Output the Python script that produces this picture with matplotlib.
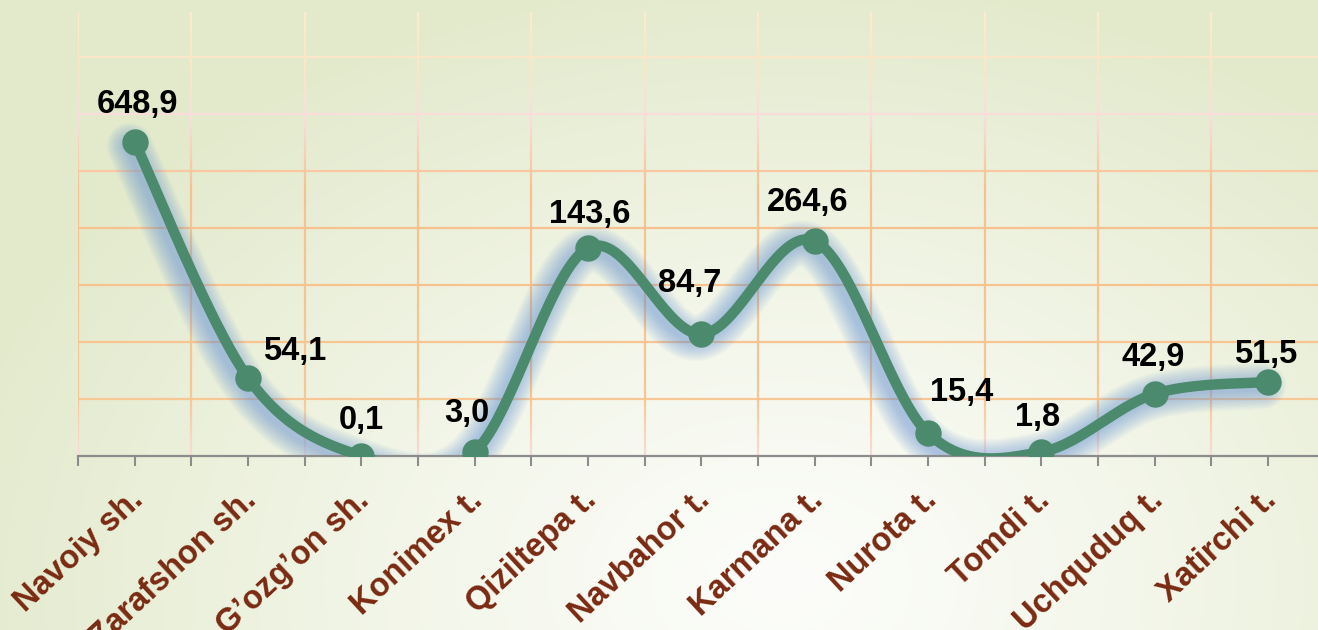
import numpy as np
import matplotlib.pyplot as plt
import matplotlib.transforms as mtransforms
from matplotlib.collections import LineCollection
from matplotlib.colors import LinearSegmentedColormap, to_rgb

plt.rcParams["font.family"] = ["Liberation Sans", "DejaVu Sans"]
plt.rcParams["font.weight"] = "bold"

# data (heights in grid units; labels as printed)
districts = ["Navoiy sh.", "Zarafshon sh.", "G\u2019ozg\u2019on sh.", "Konimex t.",
             "Qiziltepa t.", "Navbahor t.", "Karmana t.", "Nurota t.",
             "Tomdi t.", "Uchquduq t.", "Xatirchi t."]
heights = [5.51, 1.37, 0.00, 0.07, 3.65, 2.14, 3.77, 0.40, 0.07, 1.09, 1.30]
value_labels = ["648,9", "54,1", "0,1", "3,0", "143,6", "84,7",
                "264,6", "15,4", "1,8", "42,9", "51,5"]

# label offsets in pixels (dx, dy)
label_offsets = [(3, 37), (47, 26), (0, 35), (-8, 39), (2, 33), (-12, 51),
                 (-7, 39), (34, 41), (-4, 35), (-1, 36), (-2, 27)]

LINE = "#4B8A6D"
GLOW = "#6593D6"
CAT = "#7A2A12"


def smooth(xs, ys, n=40):
    # Excel-like smoothed line (cubic bezier, catmull-rom control points)
    pts = np.column_stack([xs, ys]).astype(float)
    out = []
    for i in range(len(pts) - 1):
        p0 = pts[i - 1] if i > 0 else pts[i]
        p1, p2 = pts[i], pts[i + 1]
        p3 = pts[i + 2] if i + 2 < len(pts) else pts[i + 1]
        c1 = p1 + (p2 - p0) / 6
        c2 = p2 - (p3 - p1) / 6
        t = np.linspace(0, 1, n)[:, None]
        seg = ((1 - t) ** 3) * p1 + 3 * ((1 - t) ** 2) * t * c1 \
            + 3 * (1 - t) * t ** 2 * c2 + t ** 3 * p2
        out.append(seg if i == 0 else seg[1:])
    seg = np.vstack(out)
    return seg[:, 0], seg[:, 1]


def main():
    W, H = 1318, 630
    fig = plt.figure(figsize=(W / 100, H / 100), dpi=100)

    # background gradient
    bg = fig.add_axes([0, 0, 1, 1], zorder=-10)
    yy, xx = np.mgrid[0:H, 0:W]
    d = np.sqrt((xx - 780) ** 2 + ((yy - 580) * 1.4) ** 2) / 850
    d = np.clip(d, 0, 1) ** 1.2
    c_in = np.array(to_rgb("#FCFDFA"))
    c_out = np.array(to_rgb("#E3EACC"))
    img = c_in[None, None, :] * (1 - d[..., None]) + c_out[None, None, :] * d[..., None]
    bg.imshow(img, aspect="auto", extent=[0, 1, 0, 1])
    bg.axis("off")

    left, top, bottom_px = 78, 12, 456
    step = 113.33
    ax = fig.add_axes([left / W, (H - bottom_px) / H,
                       len(districts) * step / W, (bottom_px - top) / H])
    ax.set_facecolor("none")
    x = np.arange(len(districts))
    ymax = (bottom_px - top) / 57.0
    ax.set_xlim(-0.5, len(districts) - 0.5)
    ax.set_ylim(0, ymax)

    # gradient grid
    grid_cmap = LinearSegmentedColormap.from_list(
        "g", [(0, "#F9DCDA"), (0.13, "#F8C693"), (0.6, "#F8C08C"),
              (0.76, "#FADCDE"), (0.88, "#FBE6C6"), (1, "#FCEBCC")])
    for gy in np.arange(1, 8):
        ax.axhline(gy, color=grid_cmap(gy / ymax), lw=1.6, zorder=1)
    ys = np.linspace(0, ymax, 120)
    segs, cols = [], []
    for gx in np.arange(-0.5, len(districts), 1.0):
        for a, b in zip(ys[:-1], ys[1:]):
            segs.append([(gx, a), (gx, b)])
            cols.append(grid_cmap((a + b) / 2 / ymax))
    ax.add_collection(LineCollection(segs, colors=cols, lw=1.6, zorder=1))

    # line with soft glow shifted down-left
    sx, sy = smooth(x, heights)
    shifted = mtransforms.offset_copy(ax.transData, fig=fig, x=-5, y=-4, units="dots")
    for lw in np.arange(46, 8, -3):
        ax.plot(sx, sy, color=GLOW, lw=lw * 0.72, alpha=0.05,
                solid_capstyle="round", transform=shifted, zorder=2)
    ax.plot(sx, sy, color=LINE, lw=7.5, solid_capstyle="round", zorder=3)
    ax.plot(x, heights, "o", color=LINE, ms=19, mew=0, zorder=4)

    for xi, hi, lab, (dx, dy) in zip(x, heights, value_labels, label_offsets):
        ax.annotate(lab, (xi, hi), xytext=(dx * 0.72, dy * 0.72),
                    textcoords="offset points", ha="center", va="center",
                    fontsize=23.5, fontweight="bold", color="black", zorder=5,
                    annotation_clip=False)

    # axes styling
    for s in ["left", "right", "top"]:
        ax.spines[s].set_visible(False)
    ax.spines["bottom"].set_color("#8C8C8C")
    ax.spines["bottom"].set_linewidth(1.6)
    ax.set_yticks([])
    ax.set_xticks(np.arange(-0.5, len(districts), 0.5))
    ax.set_xticklabels([])
    ax.tick_params(axis="x", length=7, width=1.5, color="#8C8C8C", direction="out")

    for xi, name in zip(x, districts):
        ax.annotate(name, (xi, 0), xytext=(7, -33), textcoords="offset points",
                    rotation=43, rotation_mode="anchor", ha="right", va="baseline",
                    fontsize=23.5, fontweight="bold", color=CAT, annotation_clip=False)

    fig.savefig("out.png", dpi=100)


if __name__ == "__main__":
    main()
